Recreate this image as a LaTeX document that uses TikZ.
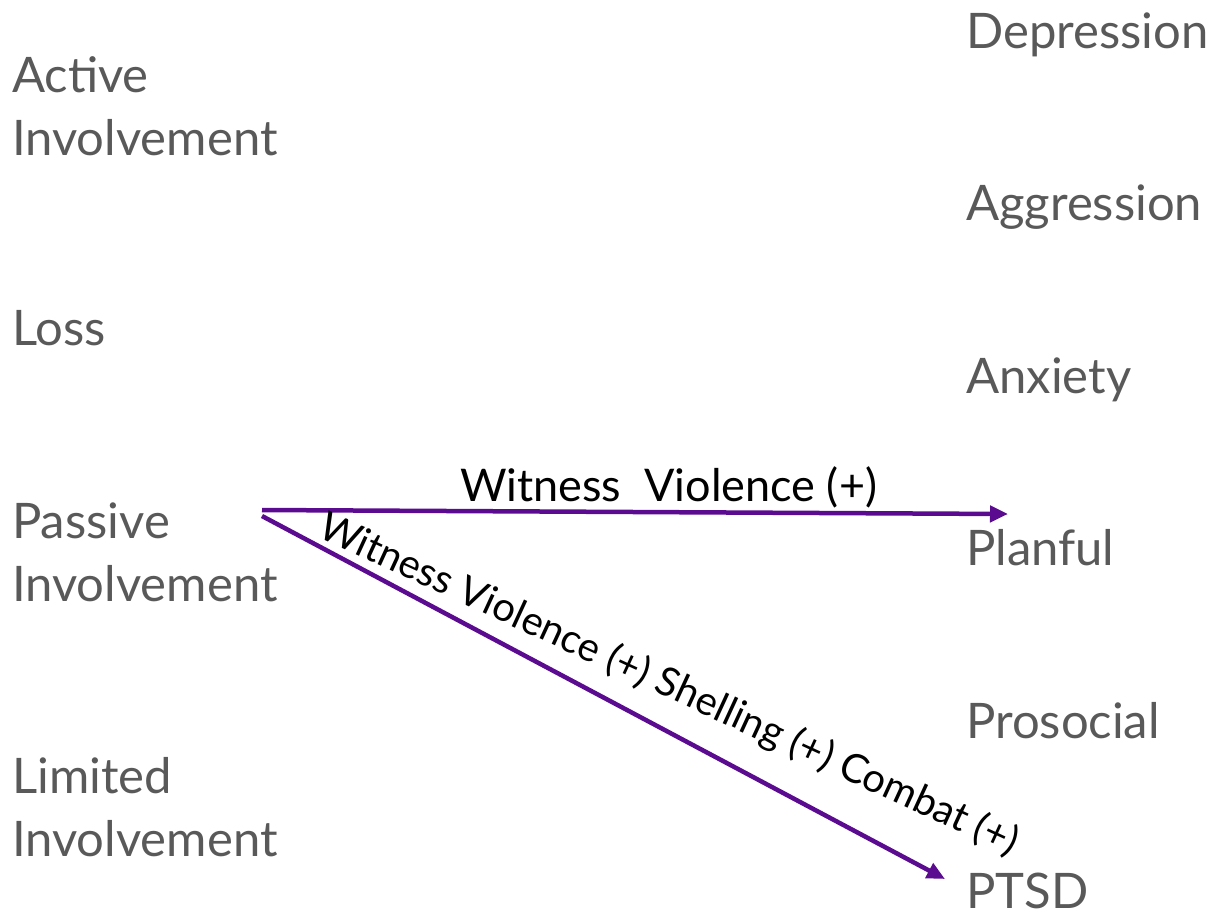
\documentclass[tikz,border=0pt]{standalone}
\usepackage{fontspec}
\setmainfont{Lato}
\usetikzlibrary{arrows.meta}
\definecolor{labelgray}{HTML}{595959}
\definecolor{pathpurple}{HTML}{5A0B8F}
\tikzset{
  factor/.style={anchor=base west, inner sep=0pt, text=labelgray,
    font=\fontsize{49}{63}\selectfont, align=left},
  effect/.style={font=\fontsize{45}{50}\selectfont, text=black, inner sep=0pt},
  pathway/.style={draw=pathpurple, line width=4.5pt, -{Triangle[length=18pt,width=16pt]}},
}
\begin{document}
\begin{tikzpicture}[x=1pt,y=-1pt]
\useasboundingbox (0,0) rectangle (1215,914);
% exposure categories (left column); anchors sit on the last line's baseline
\node[factor] (active) at (12,155) {Active\\Involvement};
\node[factor] (loss) at (12,345) {Loss};
\node[factor] (passive) at (12,601) {Passive\\Involvement};
\node[factor] (limited) at (12,856) {Limited\\Involvement};
% outcomes (right column)
\node[factor] (depression) at (966,48) {Depression};
\node[factor] (aggression) at (966,220) {Aggression};
\node[factor] (anxiety) at (966,393) {Anxiety};
\node[factor] (planful) at (966,565) {Planful};
\node[factor] (prosocial) at (966,738) {Prosocial};
\node[factor] (ptsd) at (966,908) {PTSD};
% pathway start and end points
\coordinate (src1) at (262,510);
\coordinate (src2) at (262,516);
\coordinate (dst1) at (1008,514);
\coordinate (dst2) at (945,879);
\draw[pathway] (src1) -- node[effect, pos=0.545, above=2pt] (lbl1) {Witness\ \ Violence (+)} (dst1);
\draw[pathway] (src2) -- (dst2);
% label of the diagonal pathway, set at a slightly shallower angle
\node[effect, font=\fontsize{40}{45}\selectfont, anchor=base west, rotate=-24.7]
  (lbl2) at (316,536) {Witness Violence (+) Shelling (+) Combat (+)};
\end{tikzpicture}
\end{document}
